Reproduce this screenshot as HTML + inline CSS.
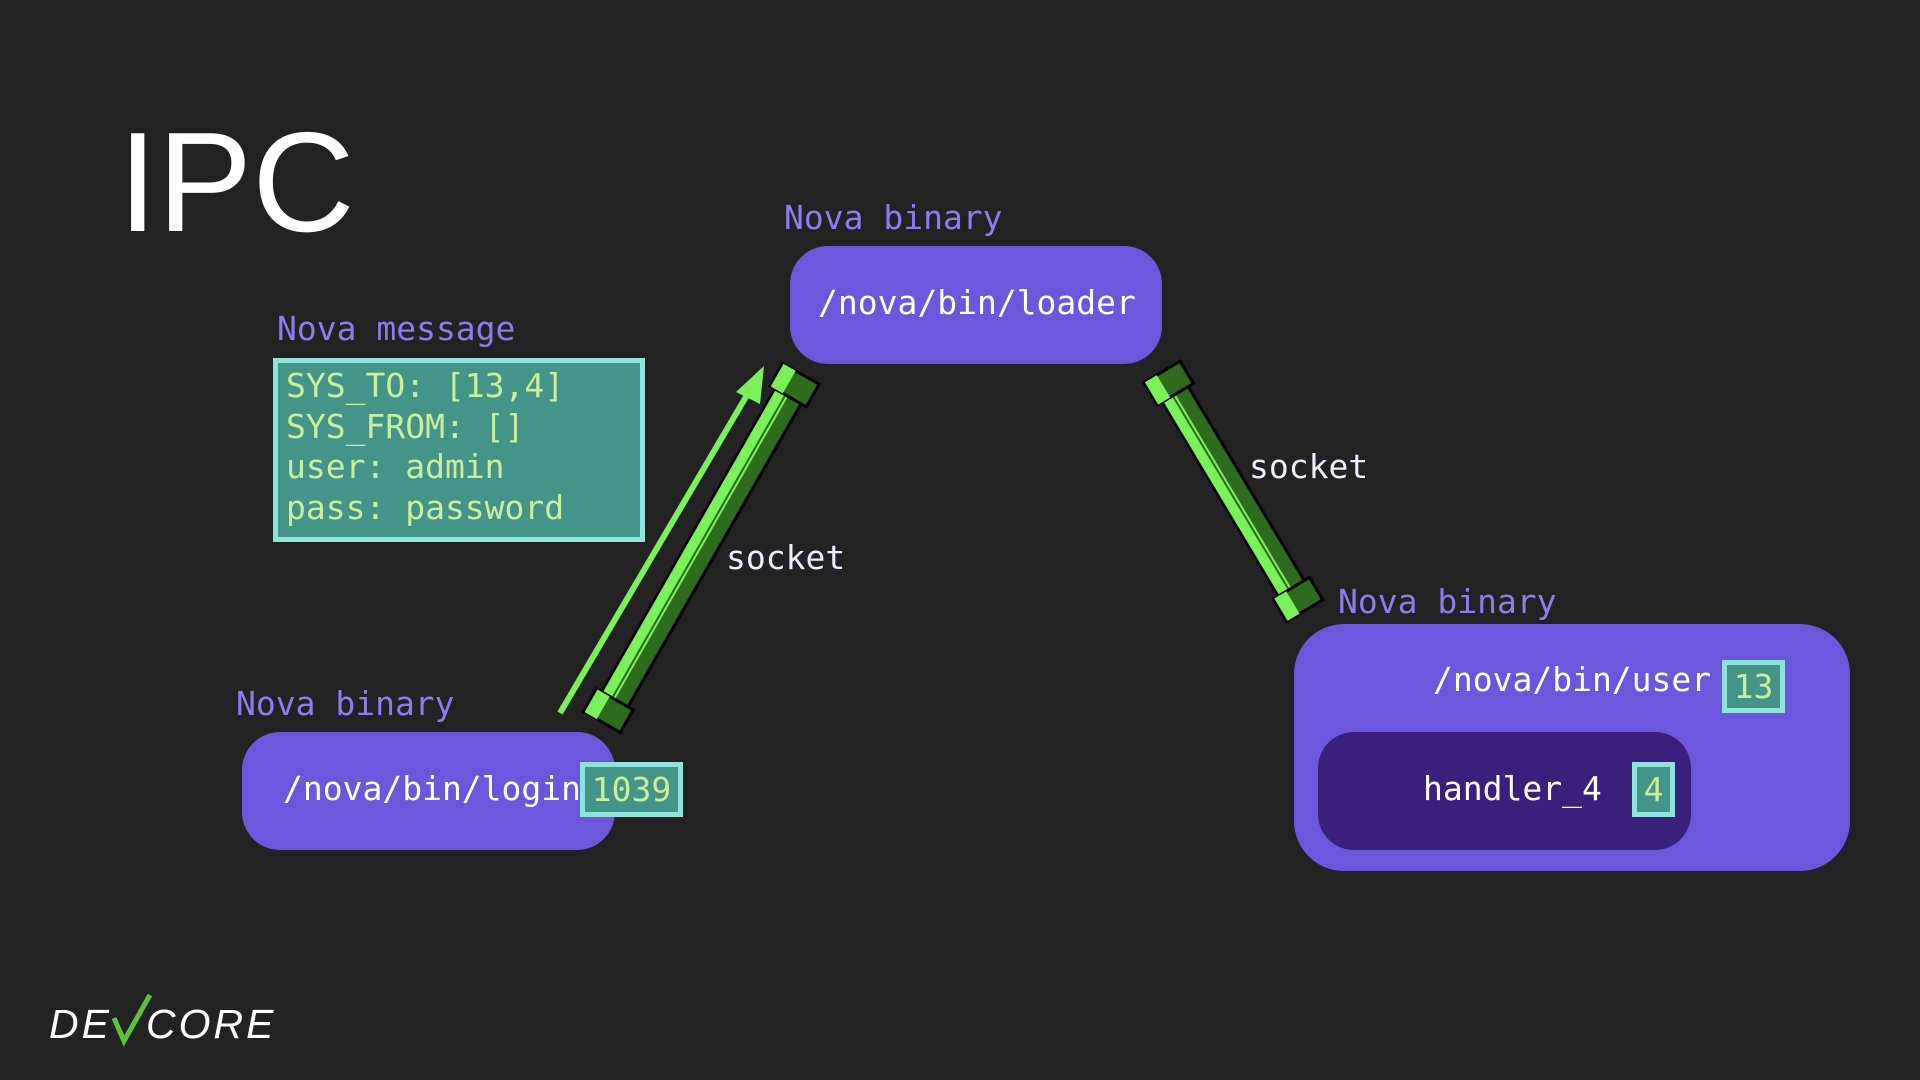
<!DOCTYPE html>
<html><head><meta charset="utf-8"><style>
body{margin:0;width:1920px;height:1080px;background:#222222;overflow:hidden;position:relative;font-family:"DejaVu Sans Mono","Liberation Mono",monospace}
.a{position:absolute;white-space:nowrap}
.lbl{color:#8b7cf0;font-size:33px}
.box{position:absolute;background:#6c56db;border-radius:38px}
.t{color:#fff;font-size:33px}
.badge{position:absolute;background:#44948a;border:5px solid #8ee3da;box-sizing:border-box;color:#c9ee9e;font-size:33px;text-align:center}
.dv{position:absolute;font-family:'Liberation Sans',sans-serif;font-style:italic;font-size:41px;color:#fff;letter-spacing:3px;line-height:1;top:1004px}
</style></head><body>
<div class="a" style="left:118px;top:112px;font-family:'Liberation Sans',sans-serif;font-size:142px;color:#fff;line-height:1">IPC</div>

<div class="a lbl" style="left:784px;top:198px">Nova binary</div>
<div class="box" style="left:790px;top:246px;width:372px;height:118px"></div>
<div class="a t" style="left:818px;top:283px">/nova/bin/loader</div>

<div class="a lbl" style="left:277px;top:309px">Nova message</div>
<div class="a" style="left:273px;top:358px;width:372px;height:184px;box-sizing:border-box;background:#44948a;border:5px solid #8ee3da;color:#c9ee9e;font-size:33px;line-height:40.5px;padding:3px 0 0 8px">SYS_TO: [13,4]<br>SYS_FROM: []<br>user: admin<br>pass: password</div>

<div class="a lbl" style="left:236px;top:684px">Nova binary</div>
<div class="box" style="left:242px;top:732px;width:373px;height:118px"></div>
<div class="a t" style="left:283px;top:769px">/nova/bin/login</div>
<div class="badge" style="left:580px;top:762px;width:103px;height:55px;line-height:45px">1039</div>

<div class="a lbl" style="left:1338px;top:582px">Nova binary</div>
<div class="box" style="left:1294px;top:624px;width:556px;height:247px;border-radius:50px"></div>
<div class="a t" style="left:1433px;top:660px">/nova/bin/user</div>
<div class="badge" style="left:1722px;top:660px;width:63px;height:53px;line-height:43px">13</div>
<div class="box" style="left:1318px;top:732px;width:373px;height:118px;background:#3b1f7c;border-radius:36px"></div>
<div class="a t" style="left:1423px;top:769px">handler_4</div>
<div class="badge" style="left:1632px;top:762px;width:43px;height:55px;line-height:45px">4</div>

<div class="a t" style="left:726px;top:538px;color:#eef">socket</div>
<div class="a t" style="left:1249px;top:447px;color:#eef">socket</div>

<svg width="1920" height="1080" style="position:absolute;left:0;top:0">
<line x1="560" y1="713" x2="750" y2="390" stroke="#7af05a" stroke-width="6"/>
<polygon points="764,366 736,392 760,404" fill="#7af05a"/>
<g transform="translate(602,722) rotate(-60.26)">
<rect x="10" y="-15" width="381" height="30" fill="#2e6b1e" stroke="#000" stroke-width="3"/>
<rect x="10" y="-14" width="381" height="14" fill="#7af05a"/>
<rect x="10" y="-4" width="381" height="2" fill="#2e6b1e"/>
<rect x="0" y="-21" width="26" height="42" fill="#2e6b1e" stroke="#000" stroke-width="3"/>
<rect x="0" y="-20" width="26" height="14" fill="#7af05a"/>
<rect x="375" y="-21" width="26" height="42" fill="#2e6b1e" stroke="#000" stroke-width="3"/>
<rect x="375" y="-20" width="26" height="14" fill="#7af05a"/>
</g>
<g transform="translate(1162,372) rotate(59.1)">
<rect x="10" y="-15" width="258" height="30" fill="#2e6b1e" stroke="#000" stroke-width="3"/>
<rect x="10" y="0" width="258" height="14" fill="#7af05a"/>
<rect x="10" y="2" width="258" height="2" fill="#2e6b1e"/>
<rect x="0" y="-21" width="26" height="42" fill="#2e6b1e" stroke="#000" stroke-width="3"/>
<rect x="0" y="6" width="26" height="14" fill="#7af05a"/>
<rect x="252" y="-21" width="26" height="42" fill="#2e6b1e" stroke="#000" stroke-width="3"/>
<rect x="252" y="6" width="26" height="14" fill="#7af05a"/>
</g>
<path d="M114,1018 L124,1041 L150,995" fill="none" stroke="#5bc33a" stroke-width="5"/>
</svg>
<div class="dv" style="left:49px">DE</div>
<div class="dv" style="left:146px">CORE</div>
</body></html>
